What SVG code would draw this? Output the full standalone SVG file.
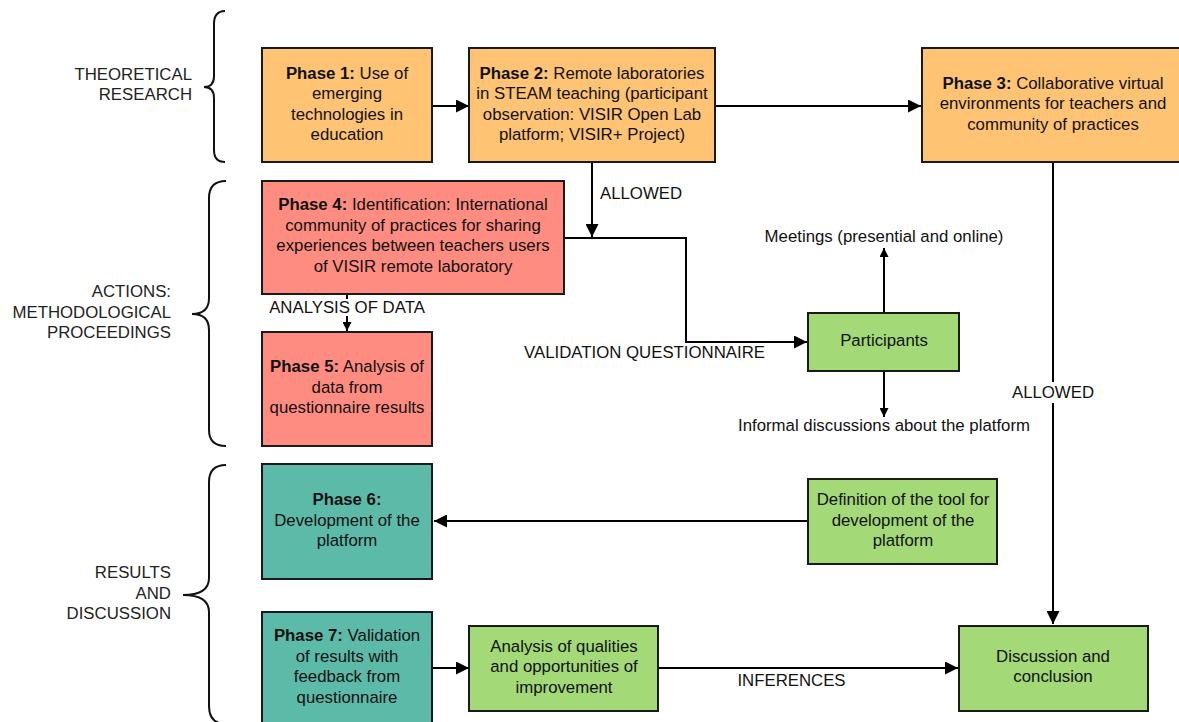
<svg xmlns="http://www.w3.org/2000/svg" width="1179" height="722" viewBox="0 0 1179 722">
<style>
  text { font-family: "Liberation Sans", Arial, sans-serif; font-size: 16.8px; fill: #111; }
  .c { text-anchor: middle; }
  .r { text-anchor: end; fill: #222; }
  .b { font-weight: bold; }
  .box { stroke: #1a1a1a; stroke-width: 2; }
  .or { fill: #FFC374; }
  .sa { fill: #FF8C80; }
  .te { fill: #5CBAA8; }
  .gr { fill: #A3D977; }
  .ln { fill: none; stroke: #000; stroke-width: 2; }
  .br { fill: none; stroke: #111; stroke-width: 2; }
</style>
<defs>
  <marker id="ah" viewBox="0 0 10 10" refX="10" refY="5" markerWidth="6.5" markerHeight="6.5" markerUnits="strokeWidth" orient="auto">
    <path d="M0,0 L10,5 L0,10 z" fill="#000"/>
  </marker>
  <marker id="as" viewBox="0 0 10 10" refX="10" refY="5" markerWidth="4.5" markerHeight="4.5" markerUnits="strokeWidth" orient="auto">
    <path d="M0,0 L10,5 L0,10 z" fill="#000"/>
  </marker>
</defs>

<g id="braces">
  <path class="br" d="M225,11 Q214,11 214,24 L214,76 Q214,87 204,87 Q214,87 214,98 L214,150 Q214,162 225,162"/>
  <path class="br" d="M226,181 Q209,181 209,198 L209,298 Q209,314 192,314 Q209,314 209,330 L209,430 Q209,446 226,446"/>
  <path class="br" d="M226,465 Q209,465 209,482 L209,578 Q209,595 183,595 Q209,595 209,612 L209,706 Q209,724 226,724"/>
</g>

<g id="section-labels">
  <text class="r" x="192" y="79.5">THEORETICAL</text>
  <text class="r" x="192" y="100">RESEARCH</text>
  <text class="r" x="171" y="297">ACTIONS:</text>
  <text class="r" x="171" y="317.5">METHODOLOGICAL</text>
  <text class="r" x="171" y="338">PROCEEDINGS</text>
  <text class="r" x="171" y="578">RESULTS</text>
  <text class="r" x="171" y="598.5">AND</text>
  <text class="r" x="171" y="619">DISCUSSION</text>
</g>

<g id="connectors">
  <line class="ln" x1="432" y1="106" x2="469" y2="106" marker-end="url(#ah)"/>
  <line class="ln" x1="715" y1="106" x2="921" y2="106" marker-end="url(#ah)"/>
  <line class="ln" x1="592" y1="162" x2="592" y2="237" marker-end="url(#ah)"/>
  <polyline class="ln" points="564,238 686,238 686,342 807,342" marker-end="url(#ah)"/>
  <line class="ln" x1="347" y1="294" x2="347" y2="331" marker-end="url(#as)"/>
  <line class="ln" x1="884" y1="313" x2="884" y2="248" marker-end="url(#as)"/>
  <line class="ln" x1="884" y1="371" x2="884" y2="417" marker-end="url(#as)"/>
  <line class="ln" x1="1053" y1="162" x2="1053" y2="624" marker-end="url(#ah)"/>
  <line class="ln" x1="808" y1="521" x2="434" y2="521" marker-end="url(#ah)"/>
  <line class="ln" x1="432" y1="668" x2="469" y2="668" marker-end="url(#ah)"/>
  <line class="ln" x1="658" y1="668" x2="958" y2="668" marker-end="url(#ah)"/>
  <rect x="267" y="299" width="160" height="17" fill="#fff"/>
  <rect x="1011" y="382" width="84" height="21" fill="#fff"/>
  <text class="c" x="347" y="312.5">ANALYSIS OF DATA</text>
  <text x="600" y="198.5">ALLOWED</text>
  <text class="c" x="884" y="241.5">Meetings (presential and online)</text>
  <text class="c" x="884" y="430.5">Informal discussions about the platform</text>
  <text x="765" y="357.5" text-anchor="end">VALIDATION QUESTIONNAIRE</text>
  <text class="c" x="1053" y="397.5">ALLOWED</text>
  <text class="c" x="791.5" y="685.5">INFERENCES</text>
</g>

<g id="phase1">
  <rect class="box or" x="262" y="48" width="170" height="114"/>
  <text class="c" x="347" y="78.5"><tspan class="b">Phase 1:</tspan> Use of</text>
  <text class="c" x="347" y="99">emerging</text>
  <text class="c" x="347" y="119.5">technologies in</text>
  <text class="c" x="347" y="140">education</text>
</g>
<g id="phase2">
  <rect class="box or" x="469" y="48" width="246" height="114"/>
  <text class="c" x="592" y="78.5"><tspan class="b">Phase 2:</tspan> Remote laboratories</text>
  <text class="c" x="592" y="99">in STEAM teaching (participant</text>
  <text class="c" x="592" y="119.5">observation: VISIR Open Lab</text>
  <text class="c" x="592" y="140">platform; VISIR+ Project)</text>
</g>
<g id="phase3">
  <rect class="box or" x="922" y="48" width="262" height="114"/>
  <text class="c" x="1053" y="88.5"><tspan class="b">Phase 3:</tspan> Collaborative virtual</text>
  <text class="c" x="1053" y="109">environments for teachers and</text>
  <text class="c" x="1053" y="129.5">community of practices</text>
</g>
<g id="phase4">
  <rect class="box sa" x="262" y="181" width="302" height="113"/>
  <text class="c" x="413" y="210"><tspan class="b">Phase 4:</tspan> Identification: International</text>
  <text class="c" x="413" y="230.5">community of practices for sharing</text>
  <text class="c" x="413" y="251">experiences between teachers users</text>
  <text class="c" x="413" y="271.5">of VISIR remote laboratory</text>
</g>
<g id="phase5">
  <rect class="box sa" x="262" y="332" width="170" height="114"/>
  <text class="c" x="347" y="372"><tspan class="b">Phase 5:</tspan> Analysis of</text>
  <text class="c" x="347" y="392.5">data from</text>
  <text class="c" x="347" y="413">questionnaire results</text>
</g>
<g id="participants">
  <rect class="box gr" x="808" y="313" width="151" height="58"/>
  <text class="c" x="884" y="345.5">Participants</text>
</g>
<g id="phase6">
  <rect class="box te" x="262" y="464" width="170" height="115"/>
  <text class="c b" x="347" y="505">Phase 6:</text>
  <text class="c" x="347" y="525.5">Development of the</text>
  <text class="c" x="347" y="546">platform</text>
</g>
<g id="definition">
  <rect class="box gr" x="808" y="479" width="189" height="85"/>
  <text class="c" x="903" y="505">Definition of the tool for</text>
  <text class="c" x="903" y="525.5">development of the</text>
  <text class="c" x="903" y="546">platform</text>
</g>
<g id="phase7">
  <rect class="box te" x="262" y="612" width="170" height="120"/>
  <text class="c" x="347" y="641"><tspan class="b">Phase 7:</tspan> Validation</text>
  <text class="c" x="347" y="661.5">of results with</text>
  <text class="c" x="347" y="682">feedback from</text>
  <text class="c" x="347" y="702.5">questionnaire</text>
</g>
<g id="analysis">
  <rect class="box gr" x="469" y="626" width="189" height="85"/>
  <text class="c" x="564" y="651.5">Analysis of qualities</text>
  <text class="c" x="564" y="672">and opportunities of</text>
  <text class="c" x="564" y="692.5">improvement</text>
</g>
<g id="discussion">
  <rect class="box gr" x="959" y="626" width="189" height="85"/>
  <text class="c" x="1053" y="661.5">Discussion and</text>
  <text class="c" x="1053" y="682">conclusion</text>
</g>
</svg>
